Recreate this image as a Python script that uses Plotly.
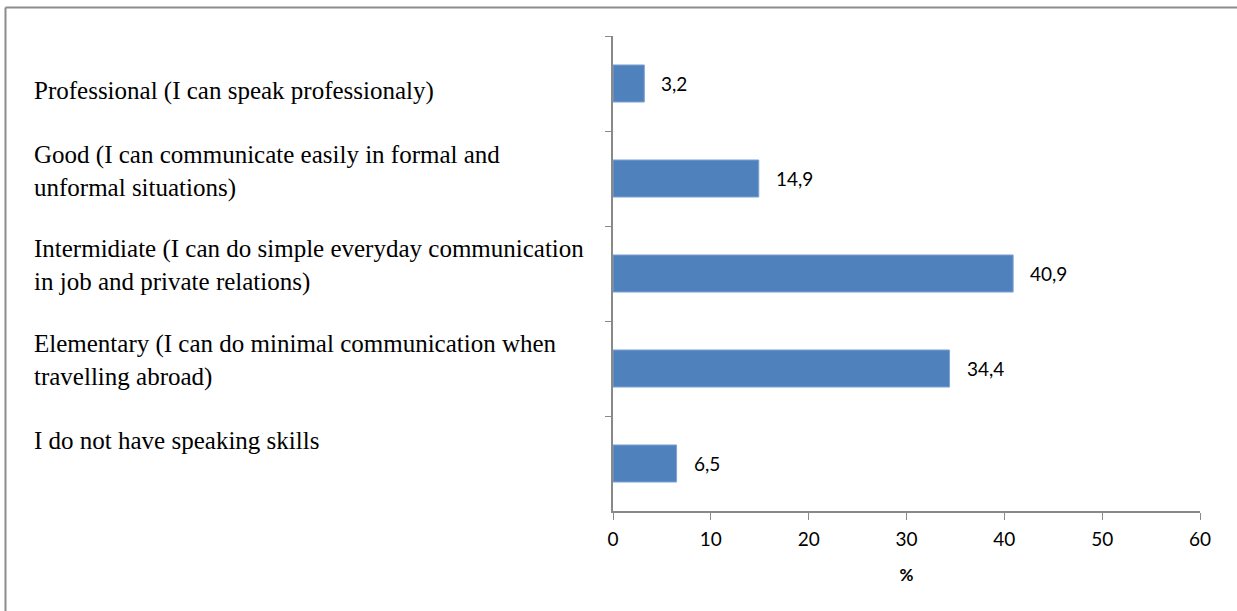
import plotly.graph_objects as go

# Survey: self-assessed speaking skills
categories = [
    "Professional (I can speak professionaly)",
    "Good (I can communicate easily in formal and<br>unformal situations)",
    "Intermidiate (I can do simple everyday communication<br>in job and private relations)",
    "Elementary (I can do minimal communication when<br>travelling abroad)",
    "I do not have speaking skills",
]
values = [3.2, 14.9, 40.9, 34.4, 6.5]
value_labels = ["3,2", "14,9", "40,9", "34,4", "6,5"]
x_ticks = [0, 10, 20, 30, 40, 50, 60]

# vertical nudge (px) of each category caption relative to its bar centre
caption_shift = [-7, 7, 8, 8, 23]

W, H = 1237, 611
ML, MR, MT, MB = 613, 37, 36, 100
PW = W - ML - MR
PH = H - MT - MB

AXIS = "#898989"
BAR = "#4F81BD"
NUM_FONT = dict(family="Lato", size=19, color="#000000")

fig = go.Figure()
fig.add_trace(go.Bar(
    x=values,
    y=categories,
    orientation="h",
    marker=dict(color=BAR, line=dict(color="#7FA3D3", width=1)),
    hoverinfo="skip",
))

annotations = []
for cat, shift in zip(categories, caption_shift):
    annotations.append(dict(
        x=(32 - ML) / PW, xref="paper", xanchor="left",
        y=cat, yref="y", yanchor="middle", yshift=shift,
        text=cat, showarrow=False, align="left",
        font=dict(family="Liberation Serif", size=25, color="#000000"),
    ))
for cat, v, lab in zip(categories, values, value_labels):
    annotations.append(dict(
        x=v, xref="x", xanchor="left", xshift=15,
        y=cat, yref="y", yanchor="middle",
        text=lab, showarrow=False,
        font=NUM_FONT,
    ))

# outer frame lines (left and top edges)
shapes = [
    dict(type="line", xref="paper", yref="paper",
         x0=(5.5 - ML) / PW, x1=(5.5 - ML) / PW,
         y0=(H - MB - H) / PH, y1=(H - MB - 7.5) / PH,
         line=dict(color="#8C8C8C", width=2)),
    dict(type="line", xref="paper", yref="paper",
         x0=(5.5 - ML) / PW, x1=(W - ML) / PW,
         y0=(H - MB - 7.5) / PH, y1=(H - MB - 7.5) / PH,
         line=dict(color="#8C8C8C", width=2)),
]

fig.update_layout(
    width=W, height=H,
    margin=dict(l=ML, r=MR, t=MT, b=MB),
    paper_bgcolor="white", plot_bgcolor="white",
    showlegend=False,
    bargap=0.61,
    annotations=annotations,
    shapes=shapes,
    xaxis=dict(
        range=[0, 60], tickvals=x_ticks, ticktext=[str(t) for t in x_ticks],
        showgrid=False, zeroline=False,
        showline=True, linecolor=AXIS, linewidth=2,
        ticks="outside", ticklen=7, tickcolor=AXIS, tickwidth=1,
        ticklabelstandoff=3,
        tickfont=NUM_FONT,
        title=dict(text="<b>%</b>", font=dict(family="Lato", size=17, color="#000000"), standoff=20),
        fixedrange=True,
    ),
    yaxis=dict(
        categoryorder="array", categoryarray=categories,
        autorange="reversed",
        showticklabels=False, showgrid=False, zeroline=False,
        showline=True, linecolor=AXIS, linewidth=2,
        ticks="outside", ticklen=6, tickcolor=AXIS, tickwidth=1,
        tickson="boundaries",
        fixedrange=True,
    ),
)

fig.write_html("out.html", config={"displayModeBar": False})
